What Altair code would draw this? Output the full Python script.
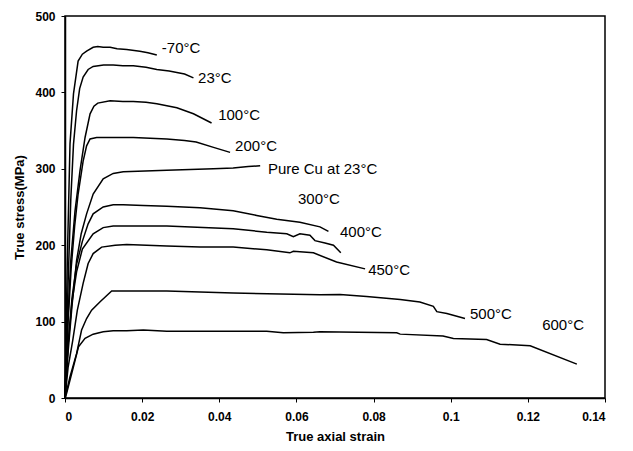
import altair as alt
import pandas as pd

# ---- data ----
s_m70_x = [0, 0.0006, 0.0013, 0.0022, 0.0034, 0.0045, 0.0056, 0.0073, 0.0085, 0.0099, 0.0117, 0.0135, 0.016, 0.0194, 0.0215, 0.0238]
s_m70_y = [0, 180, 333, 398, 441, 450, 454, 459, 460, 459, 459, 457, 456, 454, 452, 449]

s_23_x = [0, 0.0008, 0.0015, 0.0022, 0.003, 0.0038, 0.0047, 0.006, 0.0073, 0.01, 0.0125, 0.015, 0.0177, 0.021, 0.0238, 0.027, 0.029, 0.031, 0.0333]
s_23_y = [0, 150, 260, 332, 376, 405, 420, 430, 434, 436, 436, 435, 435, 433, 430, 428, 426, 424, 419]

s_100_x = [0, 0.0008, 0.0015, 0.0026, 0.0039, 0.0052, 0.0065, 0.0075, 0.0085, 0.0117, 0.015, 0.0177, 0.021, 0.0238, 0.029, 0.0333, 0.038]
s_100_y = [0, 110, 180, 245, 298, 341, 372, 382, 386, 389, 388, 388, 387, 385, 380, 372, 360]

s_200_x = [0, 0.0008, 0.0016, 0.0025, 0.0034, 0.0047, 0.0056, 0.0065, 0.0082, 0.0177, 0.0264, 0.031, 0.034, 0.0385, 0.0428]
s_200_y = [0, 100, 170, 225, 267, 310, 330, 339, 341, 341, 339, 337, 335, 328, 321.5]

s_cu_x = [0, 0.0008, 0.0018, 0.003, 0.0042, 0.0056, 0.0073, 0.0099, 0.0125, 0.0151, 0.0264, 0.0385, 0.0436, 0.0475, 0.0506]
s_cu_y = [0, 60, 120, 180, 215, 241, 267, 287, 294, 296, 298, 300, 301, 303, 304]

s_300_x = [0, 0.0008, 0.0018, 0.003, 0.0045, 0.006, 0.0073, 0.0099, 0.0125, 0.0151, 0.0203, 0.0264, 0.035, 0.0436, 0.0497, 0.0549, 0.0609, 0.0661, 0.0683]
s_300_y = [0, 70, 130, 175, 205, 228, 241, 250, 253, 253, 252, 251, 249, 245, 239, 234, 230, 224, 218]

s_400_x = [0, 0.0008, 0.0018, 0.003, 0.0045, 0.0073, 0.0099, 0.0125, 0.0264, 0.0436, 0.0523, 0.0575, 0.0592, 0.0609, 0.0635, 0.0648, 0.0674, 0.0696, 0.0715]
s_400_y = [0, 70, 125, 165, 195, 215, 223, 225, 225, 221.5, 217, 215, 211, 215, 213, 206, 203, 200, 190]

s_450_x = [0, 0.0008, 0.002, 0.0032, 0.0047, 0.006, 0.0073, 0.0095, 0.013, 0.016, 0.0264, 0.035, 0.0436, 0.0523, 0.0583, 0.0592, 0.0644, 0.0704, 0.0778]
s_450_y = [0, 40, 75, 115, 150, 176, 189, 197.5, 200, 201, 199, 197.5, 197.5, 194, 190, 192, 190, 178, 169]

s_500_x = [0, 0.0013, 0.003, 0.0043, 0.0056, 0.0069, 0.0091, 0.0121, 0.0264, 0.0436, 0.0661, 0.0713, 0.0782, 0.0869, 0.092, 0.0955, 0.0964, 0.099, 0.1037]
s_500_y = [0, 28, 58, 89, 104, 115, 126, 140, 140, 137.5, 135, 135.4, 133, 129, 125.7, 120, 113, 110.5, 104]

s_600_x = [0, 0.0004, 0.0022, 0.0035, 0.0052, 0.0073, 0.0099, 0.0125, 0.016, 0.0203, 0.0264, 0.0523, 0.0566, 0.0644, 0.0661, 0.086, 0.0869, 0.098, 0.1007, 0.1093, 0.1128, 0.1206, 0.1327]
s_600_y = [0, 6, 41, 67, 78, 83.5, 86.6, 88, 88, 89, 87.5, 87.5, 85.5, 86, 86.6, 85.3, 83.6, 81, 78, 76.6, 70.5, 68.3, 44.4]

series_names = ["-70", "23", "100", "200", "Cu", "300", "400", "450", "500", "600"]
series_xs = [s_m70_x, s_23_x, s_100_x, s_200_x, s_cu_x, s_300_x, s_400_x, s_450_x, s_500_x, s_600_x]
series_ys = [s_m70_y, s_23_y, s_100_y, s_200_y, s_cu_y, s_300_y, s_400_y, s_450_y, s_500_y, s_600_y]

label_texts = ["-70°C", "23°C", "100°C", "200°C", "Pure Cu at 23°C", "300°C", "400°C", "450°C", "500°C", "600°C"]
label_x = [0.0251, 0.0345, 0.0397, 0.0441, 0.0526, 0.0604, 0.0713, 0.0786, 0.105, 0.1237]
label_y = [458, 419, 370.7, 330, 300, 261, 216.7, 167, 109.7, 95.3]

x_ticks = [0, 0.02, 0.04, 0.06, 0.08, 0.1, 0.12, 0.14]
y_ticks = [0, 50, 100, 150, 200, 250, 300, 350, 400, 450, 500]

rows = []
for name, xs, ys in zip(series_names, series_xs, series_ys):
    for i, (a, b) in enumerate(zip(xs, ys)):
        rows.append({"series": name, "idx": i, "strain": a, "stress": b})
df = pd.DataFrame(rows)
lab = pd.DataFrame({"text": label_texts, "strain": label_x, "stress": label_y})

FONT = "Liberation Sans"

xscale = alt.Scale(domain=[0, 0.14], nice=False, zero=False)
yscale = alt.Scale(domain=[0, 500], nice=False)

lines = alt.Chart(df).mark_line(color="black", strokeWidth=1.5).encode(
    x=alt.X("strain:Q", scale=xscale,
            axis=alt.Axis(values=x_ticks, format="~g", title="True axial strain",
                          grid=False, tickSize=4, labelPadding=9, titlePadding=8)),
    y=alt.Y("stress:Q", scale=yscale,
            axis=alt.Axis(values=y_ticks, title="True stress(MPa)", grid=False,
                          tickSize=4, labelPadding=6, titlePadding=8)),
    detail="series:N",
    order="idx:Q",
)

labels = alt.Chart(lab).mark_text(align="left", baseline="middle", fontSize=15,
                                  font=FONT, color="black").encode(
    x=alt.X("strain:Q", scale=xscale),
    y=alt.Y("stress:Q", scale=yscale),
    text="text:N",
)

chart = alt.layer(lines, labels).properties(
    width=540, height=382,
    padding={"left": 57, "top": 8, "right": 20, "bottom": 45},
    autosize=alt.AutoSizeParams(type="none"),
).configure_view(
    stroke="black", strokeWidth=1.5
).configure_axis(
    domainColor="black", domainWidth=1.5, tickColor="black", tickWidth=1,
    labelFont=FONT, labelFontWeight="bold", labelFontSize=12, labelColor="black",
    titleFont=FONT, titleFontWeight="bold", titleFontSize=13, titleColor="black",
)

chart.save("out.html", embed_options={"renderer": "svg", "actions": False})
